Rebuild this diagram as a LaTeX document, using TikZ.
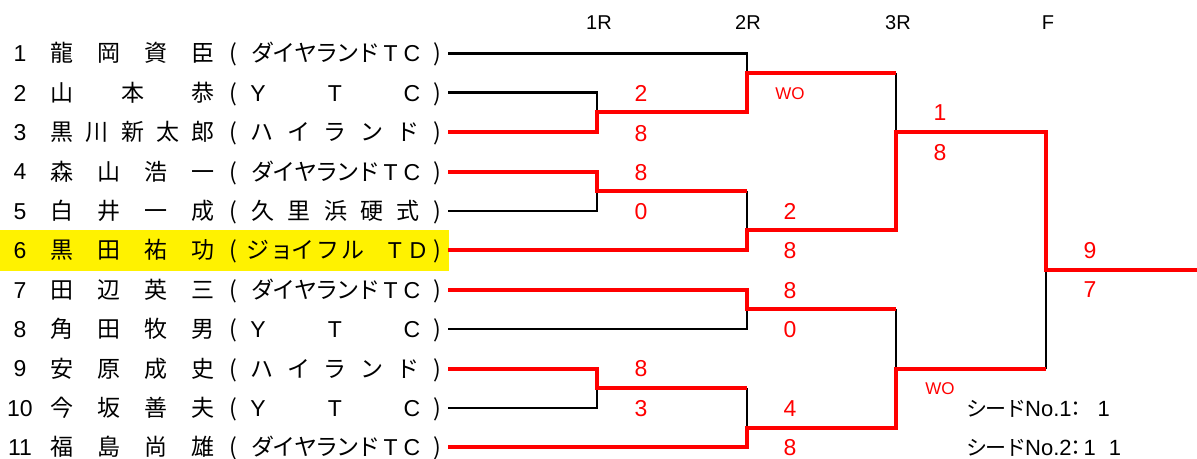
\documentclass[tikz,border=0pt]{standalone}
\usepackage{fontspec}
\newfontfamily\jp{Noto Sans CJK JP}
\newfontfamily\ar{Liberation Sans}
\newcommand\spread[6]{%
  \foreach \c [count=\i] in {#6}{%
    \node[txt] (#1-\i) at ({#3+(\i-1)*(#4-#3)/(#5-1)}, #2+8.5) {\c};}}
\newcommand\entry[9]{%
  \node[num] (num#1) at (20,#2+8.3) {#3};
  \spread{nm#1}{#2}{62}{203}{#4}{#5}
  \node[txt] (lp#1) at (233,#2+8.5) {(};
  \spread{tm#1}{#2}{#6}{#7}{#8}{#9}
  \node[txt] (rp#1) at (437,#2+8.5) {)};}
\begin{document}
\begin{tikzpicture}[x=1pt,y=-1pt,
  txt/.style={font=\jp\fontsize{23}{23}\selectfont,inner sep=0pt,anchor=base},
  num/.style={font=\ar\fontsize{23}{23}\selectfont,inner sep=0pt,anchor=base},
  sc/.style={num,text=red},
  hd/.style={font=\ar\fontsize{20}{20}\selectfont,inner sep=0pt,anchor=base},
  wo/.style={font=\ar\fontsize{17}{17}\selectfont,inner sep=0pt,anchor=base,text=red},
  seed/.style={font=\jp\fontsize{21}{21}\selectfont,inner sep=0pt,anchor=base west},
  blk/.style={line width=2.7pt,black,line join=miter},
  rd/.style={line width=4pt,red,line join=miter}]
\useasboundingbox (0,0) rectangle (1197,458);
\node[fill=yellow,minimum width=449pt,minimum height=41pt,inner sep=0pt,anchor=north west] (hl) at (0,230) {};
% headers
\node[hd] (h1) at (599,29) {1R};
\node[hd] (h2) at (748,29) {2R};
\node[hd] (h3) at (898,29) {3R};
\node[hd] (h4) at (1048,29) {F};
% entries
\entry{1}{53.3}{1}{4}{龍,岡,資,臣}{263}{412}{8}{ダ,イ,ヤ,ラ,ン,ド,\ar T,\ar C}
\entry{2}{92.7}{2}{3}{山,本,恭}{258}{412}{3}{\ar Y,\ar T,\ar C}
\entry{3}{132.1}{3}{5}{黒,川,新,太,郎}{262}{408}{5}{ハ,イ,ラ,ン,ド}
\entry{4}{171.5}{4}{4}{森,山,浩,一}{263}{412}{8}{ダ,イ,ヤ,ラ,ン,ド,\ar T,\ar C}
\entry{5}{210.9}{5}{4}{白,井,一,成}{263}{408}{5}{久,里,浜,硬,式}
% row 6 (team letters unevenly spaced)
\node[num] (num6) at (20,258.6) {6};
\spread{nm6}{250.3}{62}{203}{4}{黒,田,祐,功}
\node[txt] (lp6) at (233,258.8) {(};
\foreach \c/\x [count=\i] in {ジ/258,ョ/282,イ/303,フ/328,ル/353,{\ar T}/395,{\ar D}/418}
  {\node[txt] (tm6-\i) at (\x,258.8) {\c};}
\node[txt] (rp6) at (437,258.8) {)};
\entry{7}{289.7}{7}{4}{田,辺,英,三}{263}{412}{8}{ダ,イ,ヤ,ラ,ン,ド,\ar T,\ar C}
\entry{8}{329.1}{8}{4}{角,田,牧,男}{258}{412}{3}{\ar Y,\ar T,\ar C}
\entry{9}{368.5}{9}{4}{安,原,成,史}{262}{408}{5}{ハ,イ,ラ,ン,ド}
\entry{10}{407.9}{10}{4}{今,坂,善,夫}{258}{412}{3}{\ar Y,\ar T,\ar C}
\entry{11}{447.3}{11}{4}{福,島,尚,雄}{263}{412}{8}{ダ,イ,ヤ,ラ,ン,ド,\ar T,\ar C}
% coordinates
\coordinate (e1) at (448,53.3);
\coordinate (e2) at (448,92.7);
\coordinate (e3) at (448,132.1);
\coordinate (e4) at (448,171.5);
\coordinate (e5) at (448,210.9);
\coordinate (e6) at (448,250.3);
\coordinate (e7) at (448,289.7);
\coordinate (e8) at (448,329.1);
\coordinate (e9) at (448,368.5);
\coordinate (e10) at (448,407.9);
\coordinate (e11) at (448,447.3);
\coordinate (w23) at (597,112.4);
\coordinate (w1) at (747,73);
\coordinate (w45) at (597,191.2);
\coordinate (w6) at (747,230);
\coordinate (wT) at (896,131.5);
\coordinate (w78) at (747,309.4);
\coordinate (w910) at (597,388.2);
\coordinate (w11) at (747,427.6);
\coordinate (wB) at (896,368.5);
\coordinate (wF) at (1046,270);
\coordinate (champ) at (1197,270);
% black lines
\draw[blk] (e1) -- (e1 -| w1) -- (w1);
\draw[blk] (e2) -- (e2 -| w23) -- (w23);
\draw[blk] (w1 -| wT) -- (wT);
\draw[blk] (e5) -- (e5 -| w45) -- (w45);
\draw[blk] (w45 -| w6) -- (w6);
\draw[blk] (e8) -- (e8 -| w78) -- (w78);
\draw[blk] (w78 -| wB) -- (wB);
\draw[blk] (e10) -- (e10 -| w910) -- (w910);
\draw[blk] (w910 -| w11) -- (w11);
\draw[blk] (wB -| wF) -- (wF);
% red lines
\draw[rd] (e3) -- (e3 -| w23) -- (w23) -- (w23 -| w1) -- (w1) -- (w1 -| wT);
\draw[rd] (e4) -- (e4 -| w45) -- (w45) -- (w45 -| w6);
\draw[rd] (e6) -- (e6 -| w6) -- (w6) -- (w6 -| wT) -- (wT) -- (wT -| wF) -- (wF) -- (champ);
\draw[rd] (e7) -- (e7 -| w78) -- (w78) -- (w78 -| wB);
\draw[rd] (e9) -- (e9 -| w910) -- (w910) -- (w910 -| w11);
\draw[rd] (e11) -- (e11 -| w11) -- (w11) -- (w11 -| wB) -- (wB) -- (wB -| wF);
% scores
\node[sc] (s1) at (641,101.5) {2};
\node[sc] (s2) at (641,141.5) {8};
\node[wo] (s3) at (790,99) {WO};
\node[sc] (s4) at (641,180.5) {8};
\node[sc] (s5) at (641,219.5) {0};
\node[sc] (s6) at (790,219.5) {2};
\node[sc] (s7) at (790,258.5) {8};
\node[sc] (s8) at (940,120.5) {1};
\node[sc] (s9) at (940,160.5) {8};
\node[sc] (s10) at (790,298.5) {8};
\node[sc] (s11) at (790,337.5) {0};
\node[sc] (s12) at (641,376.5) {8};
\node[sc] (s13) at (641,416.5) {3};
\node[sc] (s14) at (790,416.5) {4};
\node[sc] (s15) at (790,455.5) {8};
\node[wo] (s16) at (940,394) {WO};
\node[sc] (s17) at (1090,258.5) {9};
\node[sc] (s18) at (1090,297.5) {7};
% seeds
\node[seed] (seed1) at (966,416) {シ\kern-1.5ptー\kern-1.5ptド\kern-1pt{\ar\fontsize{22}{22}\selectfont No.1}\kern-6pt：\kern11pt{\ar\fontsize{22}{22}\selectfont 1}};
\node[seed] (seed2) at (966,455) {シ\kern-1.5ptー\kern-1.5ptド\kern-1pt{\ar\fontsize{22}{22}\selectfont No.2}\kern-6pt：\kern-3pt{\ar\fontsize{22}{22}\selectfont 1\kern13pt1}};
\end{tikzpicture}
\end{document}
